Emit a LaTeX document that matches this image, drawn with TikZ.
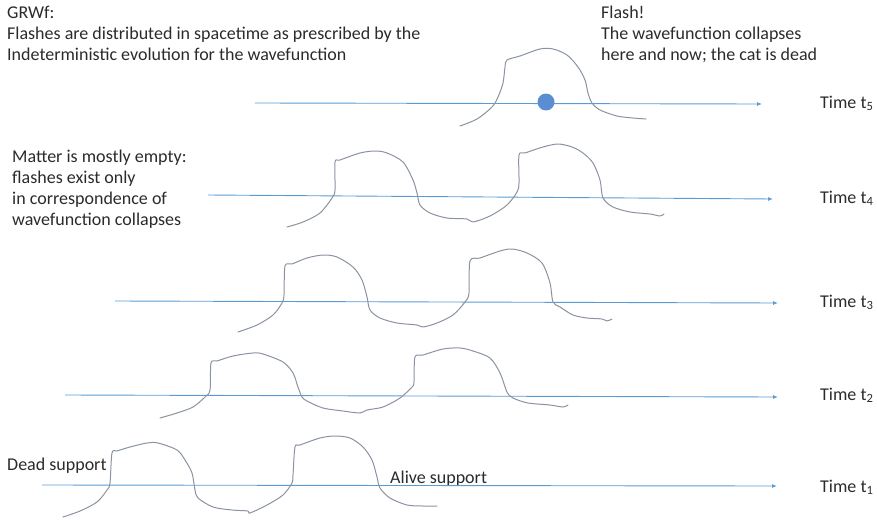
\documentclass[tikz,border=0pt]{standalone}
\usepackage{fontspec}
\setmainfont{Carlito}
\usetikzlibrary{arrows.meta}
\definecolor{axisblue}{HTML}{5B9BD5}
\definecolor{wavegray}{HTML}{8A93A1}
\definecolor{flashblue}{HTML}{5B8ED0}
\definecolor{txt}{HTML}{2B2B2B}

\begin{document}
\begin{tikzpicture}[x=1pt,y=-1pt,
  timeaxis/.style={draw=axisblue, line width=0.9pt, -{Latex[length=5pt,width=4pt]}},
  wave/.style={draw=wavegray, line width=1pt, line join=round, line cap=round},
  txtnode/.style={font=\fontsize{18}{21}\selectfont, text=txt, inner sep=0pt, align=left},
  timelabel/.style={txtnode, anchor=base west}]
\useasboundingbox (0,0) rectangle (877,519);

% ---- captions ----
\node[txtnode, anchor=north west] (grwf) at (7,6)
  {GRWf:\\Flashes are distributed in spacetime as prescribed by the\\Indeterministic evolution for the wavefunction};
\node[txtnode, anchor=north west] (flashtxt) at (601,6)
  {Flash!\\The wavefunction collapses\\here and now; the cat is dead};
\node[txtnode, anchor=north west] (matter) at (12,150)
  {Matter is mostly empty:\\flashes exist only\\in correspondence of\\wavefunction collapses};
\node[txtnode, anchor=base west] (dead) at (7,470) {Dead support};
\node[txtnode, anchor=base west] (alive) at (390,483) {Alive support};

% ---- time axes ----
\coordinate (s5) at (255,103); \coordinate (e5) at (762,104);
\coordinate (s4) at (208,195); \coordinate (e4) at (773,199);
\coordinate (s3) at (115,301); \coordinate (e3) at (778,303);
\coordinate (s2) at (65,395);  \coordinate (e2) at (778,397);
\coordinate (s1) at (42,485);  \coordinate (e1) at (777,486);
\draw[timeaxis] (s5) -- (e5);
\draw[timeaxis] (s4) -- (e4);
\draw[timeaxis] (s3) -- (e3);
\draw[timeaxis] (s2) -- (e2);
\draw[timeaxis] (s1) -- (e1);

\node[timelabel] (t5) at (820,108) {Time t\textsubscript{5}};
\node[timelabel] (t4) at (820,203) {Time t\textsubscript{4}};
\node[timelabel] (t3) at (820,307) {Time t\textsubscript{3}};
\node[timelabel] (t2) at (820,400) {Time t\textsubscript{2}};
\node[timelabel] (t1) at (820,492) {Time t\textsubscript{1}};

% ---- wavefunction supports ----
% t5: a single bump, collapsed
\draw[wave] plot[smooth, tension=0.5] coordinates {
  (460,126) (477,119) (492,107) (498,97) (503,83) (505,67) (507,60) (520,56)
  (540,49) (553,49) (567,55) (578,67) (585,80) (588,93) (592,103) (600,110)
  (617,116) (633,118) (646,119)};
% t4
\draw[wave] plot[smooth, tension=0.5] coordinates {
  (287,227) (303,222) (320,213) (332,198) (335,190) (335,162) (340,160)
  (360,153) (375,151) (387,153) (403,162) (413,180) (417,193) (420,205)
  (430,213) (447,218) (467,219) (473,222) (490,216) (507,205) (517,192)
  (519,183) (519,155) (525,153) (543,147) (558,144) (572,147) (583,153)
  (593,163) (600,180) (603,198) (613,207) (630,212) (650,214) (660,216) (664,214)};
% t3
\draw[wave] plot[smooth, tension=0.5] coordinates {
  (238,332) (257,325) (273,315) (282,303) (284,295) (285,266) (292,264)
  (307,258) (323,255) (337,257) (353,267) (362,280) (367,297) (370,310)
  (380,318) (397,323) (417,325) (423,327) (437,323) (453,315) (465,302)
  (469,293) (470,261) (480,258) (500,251) (512,249) (527,253) (542,263)
  (550,283) (553,302) (560,307) (573,315) (587,318) (602,319) (607,321) (612,319)};
% t2
\draw[wave] plot[smooth, tension=0.5] coordinates {
  (160,418) (177,413) (193,407) (205,397) (210,390) (211,363) (217,361)
  (233,356) (253,353) (263,354) (283,362) (293,373) (298,387) (302,397)
  (307,401) (323,408) (343,411) (360,413) (367,410) (383,407) (400,398)
  (412,387) (414,382) (415,357) (423,355) (443,349) (460,348) (473,351)
  (490,358) (500,373) (507,392) (513,398) (528,403) (550,405) (563,407) (568,405)};
% t1
\draw[wave] plot[smooth, tension=0.5] coordinates {
  (63,517) (80,511) (97,502) (107,490) (110,483) (112,453) (117,451)
  (130,447) (147,443) (158,443) (177,450) (185,460) (192,473) (195,490)
  (198,498) (213,507) (232,510) (248,511) (250,513) (267,505) (283,495)
  (292,483) (293,475) (295,447) (300,445) (320,438) (335,436) (350,438)
  (363,447) (372,460) (377,477) (380,488) (390,498) (407,505) (423,506) (437,506)};

% ---- the flash ----
\node[circle, fill=flashblue, minimum size=17pt, inner sep=0pt] (flash) at (546,102) {};
\end{tikzpicture}
\end{document}
